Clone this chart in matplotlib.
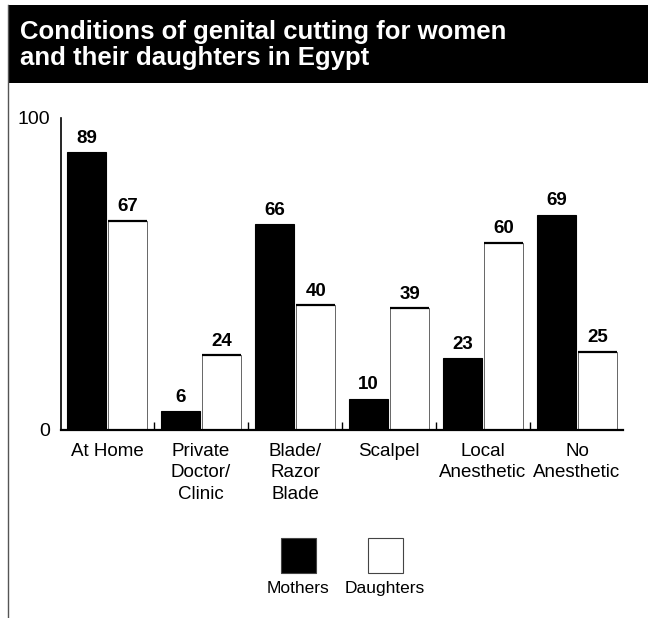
import matplotlib
matplotlib.use("Agg")
import matplotlib.pyplot as plt
from matplotlib.patches import Rectangle
from matplotlib.lines import Line2D
import numpy as np

plt.rcParams['font.family'] = ['Liberation Sans', 'DejaVu Sans']

categories = ["At Home", "Private\nDoctor/\nClinic", "Blade/\nRazor\nBlade",
              "Scalpel", "Local\nAnesthetic", "No\nAnesthetic"]
mothers = [89, 6, 66, 10, 23, 69]
daughters = [67, 24, 40, 39, 60, 25]
series_names = ["Mothers", "Daughters"]
title = "Conditions of genital cutting for women\nand their daughters in Egypt"

W, H = 648, 618
fig = plt.figure(figsize=(W / 100, H / 100), dpi=100)

# title box and left frame line
fig.patches.append(Rectangle((8 / W, 1 - 83 / H), 1 - 8 / W, 78 / H,
                             transform=fig.transFigure, facecolor="black",
                             edgecolor="none", zorder=0))
fig.lines.append(Line2D([8 / W, 8 / W], [0, 1 - 5 / H], transform=fig.transFigure,
                        color="#555555", lw=1.0))
fig.text(20 / W, 1 - 45 / H, title, color="white", fontsize=18.5,
         fontweight="bold", va="center", ha="left", linespacing=1.12)

ax = fig.add_axes([61 / W, 1 - 430 / H, (623 - 61) / W, (430 - 118) / H])
x = np.arange(len(categories))
w = 0.42
off = 0.22
ax.bar(x - off, mothers, w, color="black", edgecolor="black", lw=0.8)
ax.bar(x + off, daughters, w, color="white", edgecolor="#666666", lw=0.7)
ax.hlines(daughters, x + off - w / 2, x + off + w / 2, color="black", lw=1.6)

for xi, v in zip(x - off, mothers):
    ax.annotate(str(v), (xi, v), xytext=(0, 4), textcoords="offset points",
                ha="center", va="bottom", fontsize=13.5, fontweight="bold")
for xi, v in zip(x + off, daughters):
    ax.annotate(str(v), (xi, v), xytext=(0, 4), textcoords="offset points",
                ha="center", va="bottom", fontsize=13.5, fontweight="bold")

ax.set_xlim(-0.49, len(categories) - 0.51)
ax.set_ylim(0, 100)
ax.set_yticks([0, 100])
ax.set_yticklabels(["0", "100"], fontsize=14)
ax.set_xticks(x)
ax.set_xticklabels(categories, fontsize=13.5, linespacing=1.35, va="top")
ax.set_xticks(x[:-1] + 0.5, minor=True)
ax.tick_params(axis="x", which="major", length=0, pad=9)
ax.tick_params(axis="x", which="minor", direction="in", length=6, width=1)
ax.tick_params(axis="y", length=0, pad=8)
for s in ["top", "right"]:
    ax.spines[s].set_visible(False)
ax.spines["left"].set_linewidth(1.2)
ax.spines["bottom"].set_linewidth(1.6)

# legend: squares with labels underneath
colors = ["black", "white"]
for cx, c, name in zip([298, 385], colors, series_names):
    fig.patches.append(Rectangle(((cx - 17) / W, 1 - 573 / H), 35 / W, 35 / H,
                                 transform=fig.transFigure, facecolor=c,
                                 edgecolor="#444444", lw=0.8))
    fig.text(cx / W, 1 - 593 / H, name, fontsize=12.5, ha="center", va="baseline")

fig.savefig("out.png", dpi=100)
